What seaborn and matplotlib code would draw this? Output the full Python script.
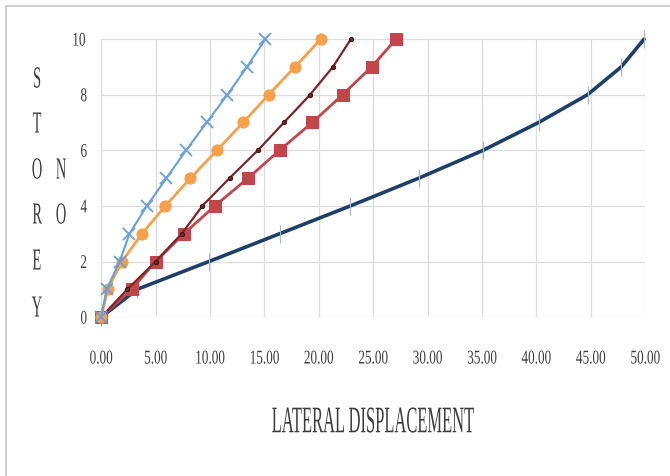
import matplotlib
matplotlib.use("Agg")
import matplotlib.pyplot as plt
import matplotlib.patheffects as pe
from matplotlib.transforms import Affine2D
import seaborn as sns
import pandas as pd

# Storey levels and lateral displacement of each model
storeys = [0, 1, 2, 3, 4, 5, 6, 7, 8, 9, 10]
disp_blue = [0.0, 0.5, 1.7, 2.6, 4.2, 6.0, 7.8, 9.7, 11.6, 13.4, 15.1]
disp_orange = [0.0, 0.6, 1.9, 3.75, 5.9, 8.2, 10.65, 13.05, 15.4, 17.8, 20.2]
disp_brown = [0.0, 2.4, 5.0, 7.4, 9.3, 11.8, 14.4, 16.8, 19.2, 21.3, 22.95]
disp_red = [0.0, 2.8, 5.0, 7.6, 10.45, 13.5, 16.4, 19.4, 22.2, 24.85, 27.1]
disp_navy = [0.0, 3.3, 9.9, 16.4, 22.9, 29.2, 35.1, 40.2, 44.7, 47.8, 49.9]

x_ticks = [0, 5, 10, 15, 20, 25, 30, 35, 40, 45, 50]
y_ticks = [0, 2, 4, 6, 8, 10]


class Squeeze(pe.AbstractPathEffect):
    """Draw text glyphs narrowed horizontally about their own centre."""

    def __init__(self, sx):
        super().__init__()
        self.sx = sx

    def draw_path(self, renderer, gc, tpath, affine, rgbFace=None):
        ext = tpath.get_extents()
        cx = (ext.x0 + ext.x1) / 2
        narrow = Affine2D().translate(-cx, 0).scale(self.sx, 1).translate(cx, 0)
        renderer.draw_path(gc, tpath, narrow + affine, rgbFace)


sns.set_theme(style="white")
plt.rcParams["font.family"] = ["Liberation Serif", "DejaVu Serif"]

TEXT = "#3c3c3c"

fig = plt.figure(figsize=(6.7, 4.77), dpi=100)
ax = fig.add_axes([0.151, 0.333, 0.812, 0.583])

styles = [
    (disp_navy, dict(color="#1f3f68", linewidth=2.6, marker="|", markersize=13,
                     markeredgecolor="#a8b6c8", markeredgewidth=0.8)),
    (disp_red, dict(color="#c0464c", linewidth=2.0, marker="s", markersize=9,
                    markeredgecolor="#c0464c")),
    (disp_brown, dict(color="#7a2626", linewidth=1.6, marker="o", markersize=3,
                      markeredgecolor="#3a1010")),
    (disp_orange, dict(color="#f5a04c", linewidth=2.0, marker="o", markersize=8,
                       markeredgecolor="#f5a04c")),
    (disp_blue, dict(color="#6b9fd6", linewidth=1.5, marker="x", markersize=9,
                     markeredgecolor="#6b9fd6", markeredgewidth=1.3)),
]
for disp, kw in styles:
    df = pd.DataFrame({"disp": disp, "storey": storeys})
    sns.lineplot(data=df, x="disp", y="storey", sort=False, estimator=None,
                 ax=ax, clip_on=False, zorder=3, **kw)

ax.set_xlim(0, 50)
ax.set_ylim(0, 10)
ax.set_xticks(x_ticks)
ax.set_xticklabels([f"{v:.2f}" for v in x_ticks])
ax.set_yticks(y_ticks)
ax.set_yticklabels([str(v) for v in y_ticks])
ax.grid(True, color="#dcdcdc", linewidth=0.9)
for s in ax.spines.values():
    s.set_visible(False)
ax.tick_params(axis="both", length=0, labelsize=14, labelcolor=TEXT)
ax.tick_params(axis="x", pad=24)
ax.tick_params(axis="y", pad=9)
ax.set_xlabel("")
ax.set_ylabel("")
for lbl in ax.get_xticklabels() + ax.get_yticklabels():
    lbl.set_path_effects([Squeeze(0.68)])

fig.text(373 / 670, 1 - 424 / 477, "LATERAL DISPLACEMENT", ha="center",
         va="center", fontsize=27, color=TEXT, path_effects=[Squeeze(0.44)])

# vertical stacked axis title
col1 = ["S", "T", "O", "R", "E", "Y"]
col1_y = [81, 126, 172, 217, 263, 310]
for ch, yp in zip(col1, col1_y):
    fig.text(37 / 670, 1 - yp / 477, ch, ha="center", va="center",
             fontsize=22, color=TEXT, path_effects=[Squeeze(0.47)])
for ch, yp in zip(["N", "O"], [172, 217]):
    fig.text(61 / 670, 1 - yp / 477, ch, ha="center", va="center",
             fontsize=22, color=TEXT, path_effects=[Squeeze(0.47)])

# thin frame lines along the top and left of the figure
fig.add_artist(plt.Line2D([6 / 670, 1], [1 - 7 / 477, 1 - 7 / 477],
                          transform=fig.transFigure, color="#d0d0d0", linewidth=1.5))
fig.add_artist(plt.Line2D([6 / 670, 6 / 670], [0, 1 - 7 / 477],
                          transform=fig.transFigure, color="#d0d0d0", linewidth=1.5))

fig.savefig("out.png", dpi=100)
